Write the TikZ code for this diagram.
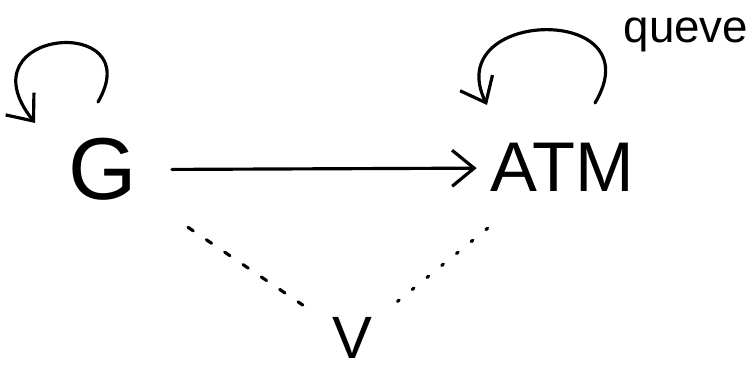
\documentclass[tikz,border=0pt]{standalone}
\usepackage{fontspec}
\setmainfont{Liberation Sans}
\usetikzlibrary{positioning, arrows.meta, calc}
\tikzset{
  lbl/.style={inner sep=2pt, anchor=base},
  wire/.style={line width=0.9pt, line cap=round},
  dashwire/.style={wire, dash pattern=on 1.8pt off 4.5pt},
  dotwire/.style={wire, dash pattern=on 0.6pt off 4.8pt},
}

\begin{document}
\begin{tikzpicture}[x=0.01cm, y=0.01cm, >={Straight Barb[length=2.2mm, width=3.6mm]}]

    \useasboundingbox (0,0) rectangle (753,368);

    % --- States ---
    \node[lbl, font=\fontsize{25}{28}\selectfont] (G) at (103,168) {G};
    \node[lbl, font=\fontsize{20}{24}\selectfont] (ATM) at (562,176) {ATM};
    \node[lbl, font=\fontsize{17}{20}\selectfont] (V) at (352,9) {V};

    % --- Self loops ---
    % G loop
    \coordinate (gs) at (98,266);
    \coordinate (ge) at (35,245);
    \draw[wire, ->] (gs) .. controls (150,355) and (-40,340) .. (ge);

    % ATM loop (queue)
    \coordinate (as) at (595,265);
    \coordinate (ae) at (487,263);
    \draw[wire, ->] (as) .. controls (655,365) and (440,360) .. (ae);
    \node[anchor=base west, inner sep=0pt, font=\fontsize{13}{15}\selectfont] (queue) at (623,325) {queve};

    % --- Transitions ---
    \draw[wire, ->, shorten <=0.27cm, shorten >=0.06cm] (G) -- (ATM);
    \draw[dashwire, shorten <=0.52cm, shorten >=0.26cm] (G) -- (V);
    \draw[dotwire, shorten <=0.23cm, shorten >=0.45cm] (V) -- (ATM);

\end{tikzpicture}
\end{document}
